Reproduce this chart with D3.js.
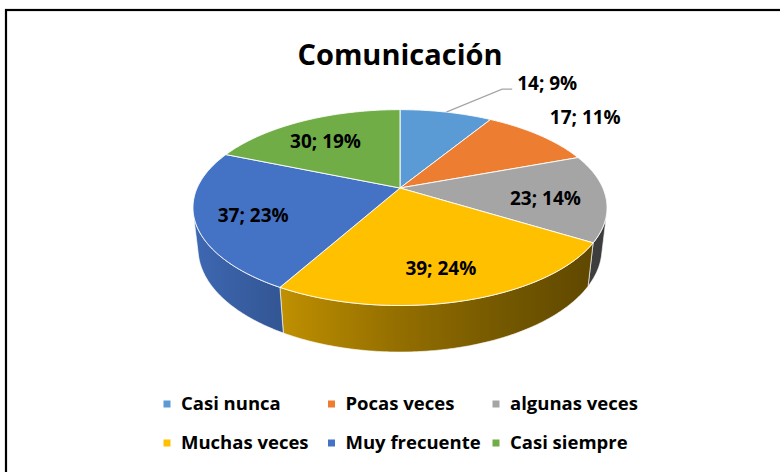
<!DOCTYPE html>
<html lang="es">
<head>
<meta charset="utf-8">
<title>Comunicación</title>
<script src="https://d3js.org/d3.v7.min.js"></script>
<style>
  body { margin: 0; background: #fff; }
  svg { display: block; font-family: 'Open Sans', 'Lato', sans-serif; }
</style>
</head>
<body>
<script>
// data
const categories = ["Casi nunca", "Pocas veces", "algunas veces", "Muchas veces", "Muy frecuente", "Casi siempre"];
const values = [14, 17, 23, 39, 37, 30];
const colors = ["#5B9BD5", "#ED7D31", "#A5A5A5", "#FFC000", "#4472C4", "#70AD47"];

const W = 780, H = 472;
const svg = d3.select("body").append("svg").attr("width", W).attr("height", H);

// frame (right/bottom are cut off in the original)
svg.append("rect").attr("x", 6).attr("y", 10).attr("width", 800).attr("height", 500)
  .attr("fill", "#fff").attr("stroke", "#000").attr("stroke-width", 2.2);

svg.append("text").attr("x", 400).attr("y", 65).attr("text-anchor", "middle")
  .attr("font-size", 29).attr("font-weight", 700).attr("fill", "#000").text("Comunicación");

// simple perspective projection of a unit disc
const cx = 400, cy = 188, f = 898.6, D = 4.43;
const sA = 0.4635, cA = 0.886, thick = 0.229;
function proj(X, Z, Y) {
  const d = D - (Z * cA + Y * sA);
  return [cx + f * X / d, cy + f * (Z * sA - Y * cA) / d];
}
function pt(a, r, Y) { return proj(r * Math.sin(a), -r * Math.cos(a), Y); }
function arcPts(a0, a1, Y) {
  const n = Math.max(2, Math.ceil((a1 - a0) / 0.01));
  return d3.range(n + 1).map(i => pt(a0 + (a1 - a0) * i / n, 1, Y));
}

const pie = d3.pie().sort(null).value(d => d);
const arcs = pie(values);
const total = d3.sum(values);

// gradients for side walls, lit from the left
const defs = svg.append("defs");
colors.forEach((col, i) => {
  const g = defs.append("linearGradient").attr("id", "side" + i)
    .attr("gradientUnits", "userSpaceOnUse")
    .attr("x1", cx - 207).attr("x2", cx + 207).attr("y1", 0).attr("y2", 0);
  d3.range(0, 1.01, 0.25).forEach(t => {
    g.append("stop").attr("offset", t).attr("stop-color", d3.color(col).darker(0.25 + 2.6 * t));
  });
});

const line = d3.line();
const visLo = Math.acos(-1 / (D * cA)), visHi = 2 * Math.PI - visLo;

// side walls
arcs.forEach((a, i) => {
  const lo = Math.max(a.startAngle, visLo), hi = Math.min(a.endAngle, visHi);
  if (hi <= lo) return;
  const top = arcPts(lo, hi, 0);
  const bot = arcPts(lo, hi, -thick).reverse();
  svg.append("path").attr("d", line(top.concat(bot)) + "Z")
    .attr("fill", `url(#side${i})`).attr("stroke", "#fff").attr("stroke-width", 0.8).attr("stroke-opacity", 0.8);
});

// top faces
arcs.forEach((a, i) => {
  const p = [proj(0, 0, 0)].concat(arcPts(a.startAngle, a.endAngle, 0));
  svg.append("path").attr("d", line(p) + "Z")
    .attr("fill", colors[i]).attr("stroke", "#fff").attr("stroke-width", 1).attr("stroke-opacity", 0.9);
});

// data labels
const lbl = svg.append("g").attr("font-size", 19).attr("font-weight", 700).attr("fill", "#000");
arcs.forEach((a, i) => {
  const mid = (a.startAngle + a.endAngle) / 2;
  const pct = Math.round(100 * values[i] / total);
  const txt = `${values[i]}; ${pct}%`;
  if (pct >= 12) {
    const [x, y] = pt(mid, 0.72, 0);
    lbl.append("text").attr("x", x - 2).attr("y", y + 4).attr("dy", "0.35em").attr("text-anchor", "middle").text(txt);
  } else if (i === 0) {
    // pushed out to the right with a leader line
    const [ex, ey] = pt(mid, 1, 0);
    const tx = ex + 71, ty = ey - 29;
    svg.append("path").attr("d", line([[ex, ey], [tx - 15, ty + 6], [tx - 5, ty + 6]]))
      .attr("fill", "none").attr("stroke", "#A5A5A5").attr("stroke-width", 1.2);
    lbl.append("text").attr("x", tx).attr("y", ty).attr("dy", "0.35em").text(txt);
  } else {
    const [x, y] = pt(mid, 1.32, 0);
    lbl.append("text").attr("x", x + 8).attr("y", y - 3).attr("dy", "0.35em").attr("text-anchor", "middle").text(txt);
  }
});

// legend
const colX = d3.scalePoint().domain([0, 1, 2]).range([167, 496]);
const rowY = d3.scalePoint().domain([0, 1]).range([404, 443]);
const leg = svg.append("g");
categories.forEach((c, i) => {
  const x = colX(i % 3), y = rowY(Math.floor(i / 3));
  leg.append("rect").attr("x", x - 3.5).attr("y", y - 3.5).attr("width", 7).attr("height", 7).attr("fill", colors[i]);
  leg.append("text").attr("x", x + 14).attr("y", y).attr("dy", "0.35em")
    .attr("font-size", 18.5).attr("font-weight", 700).attr("fill", "#000").text(c);
});
</script>
</body>
</html>
